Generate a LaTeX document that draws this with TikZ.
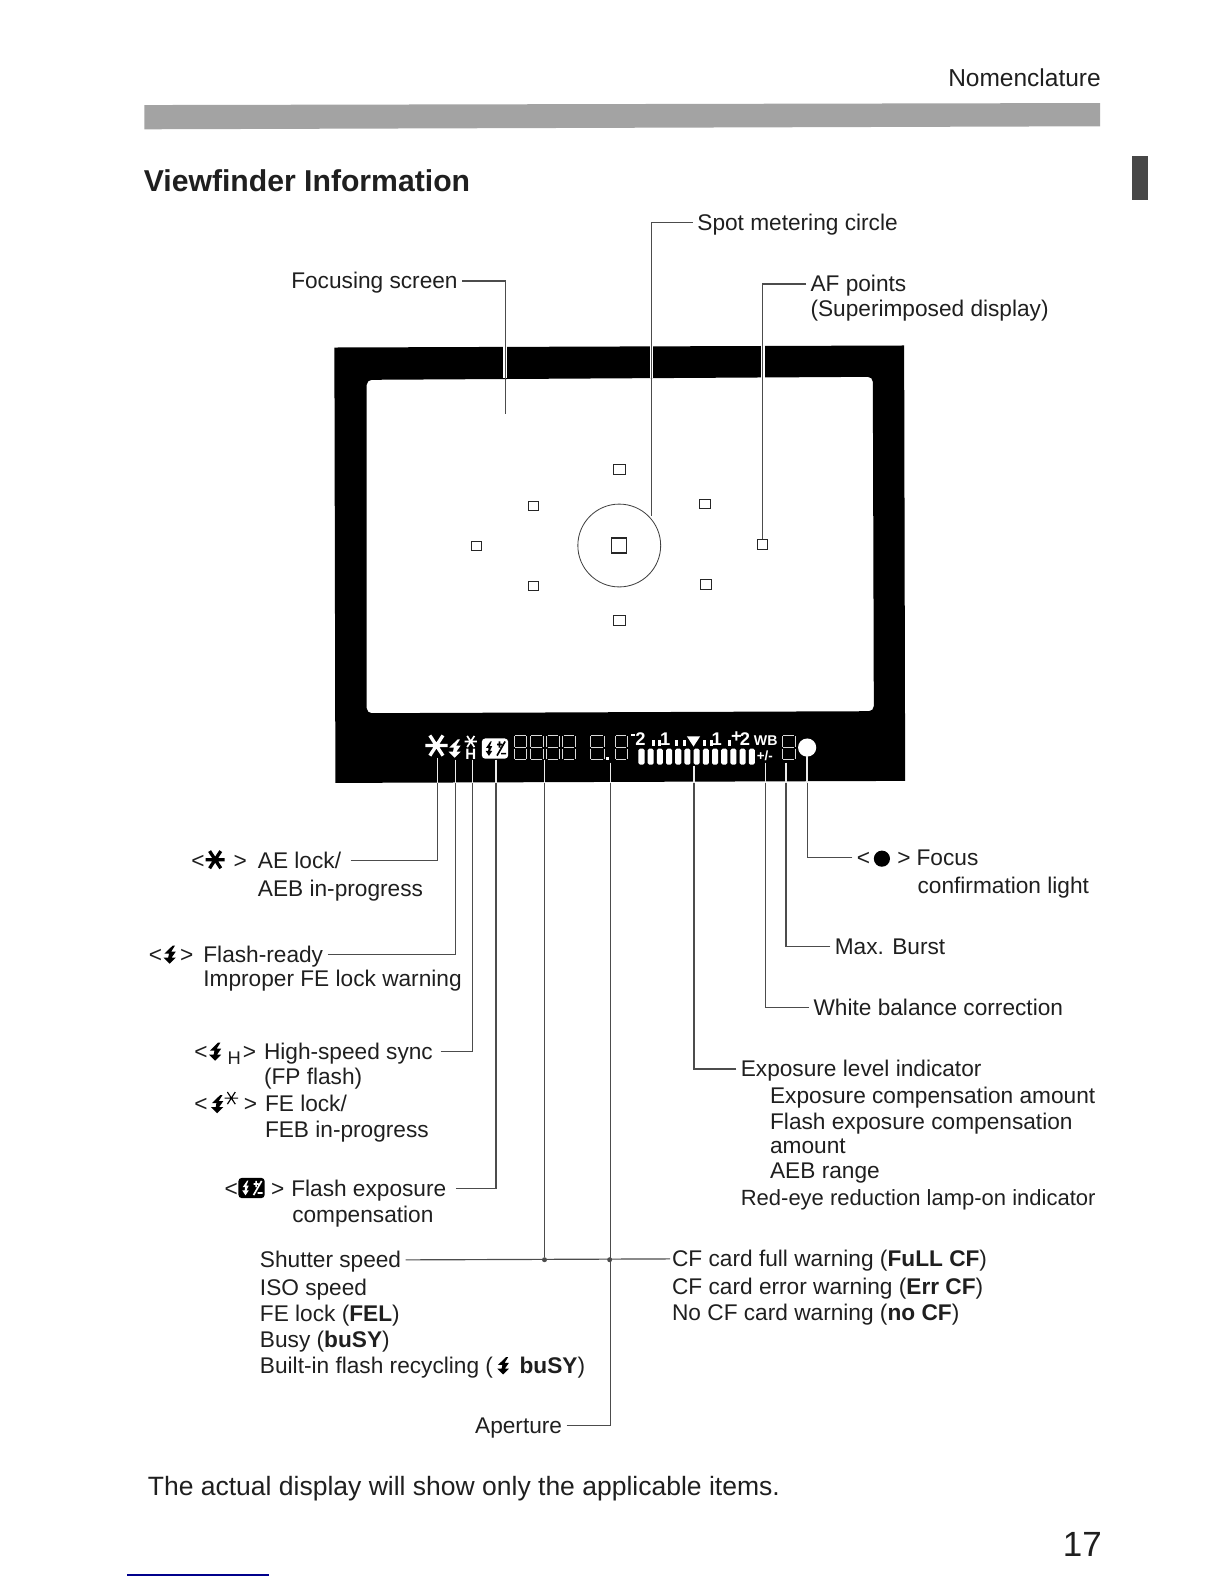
\documentclass[tikz,border=0pt]{standalone}
\usepackage{fontspec}
\setmainfont{Liberation Sans}
\tikzset{
  lab/.style={inner sep=0pt, anchor=base west, text height=12pt, text depth=2.5pt, text=black!88, font=\fontsize{13.6}{16}\selectfont},
  leader/.style={line width=0.7pt, draw=black!70, shorten <=2.5pt},
  inband/.style={line width=0.8pt, draw=white!92!black},
  halo/.style={line width=2.2pt, draw=white},
  afbox/.style={draw=black!85, line width=0.6pt, minimum width=6.3pt, minimum height=5.8pt, inner sep=0pt},
  jdot/.style={circle, fill=black!70, inner sep=0pt, minimum size=3pt},
  lcdtext/.style={inner sep=0pt, text=white, font=\fontsize{11}{11}\selectfont\bfseries},
  pics/boltsym/.style={code={
    \fill[xscale=1.5] (2,-9) -- (-3.5,-1) -- (-0.5,-1) -- (-1,3) -- (-4,3) -- (0,9) -- (4,3) -- (1.2,3) -- (4,-3) -- (1,-3) -- (3.5,-9) -- cycle;
  }},
  pics/aesym/.style={code={
    \draw (-11,0) -- (11,0) (-6.5,-10) -- (6.5,10) (6.5,-10) -- (-6.5,10);
  }},
  pics/fecsym/.style 2 args={code={
    \fill[#1, rounded corners=2] (-13,-10) rectangle (13,10);
    \begin{scope}[shift={(-6,0)}, scale=0.8]
      \fill[#2] (2,-9) -- (-3.5,-1) -- (-0.5,-1) -- (-1,3) -- (-4,3) -- (0,9) -- (4,3) -- (1.2,3) -- (4,-3) -- (1,-3) -- (3.5,-9) -- cycle;
    \end{scope}
    \draw[#2, line width=1pt] (2,7) -- (10,-7) (2,-4) -- (7,-4) (4.5,-7) -- (4.5,-1) (6,5) -- (11,5);
  }},
  pics/lcdeight/.style={code={
    \draw[white!85!black, line width=0.45pt]
      (1,0) -- (#1-1,0) (1,12) -- (#1-1,12) (1,24) -- (#1-1,24)
      (0,1) -- (0,11) (0,13) -- (0,23) (#1,1) -- (#1,11) (#1,13) -- (#1,23);
  }}
}
\begin{document}
\begin{tikzpicture}[x=0.606pt, y=-0.606pt]
  \useasboundingbox (0,0) rectangle (1212,1568);
  \coordinate (framet) at (0,342);
  \coordinate (frameh) at (0,374);
  \coordinate (frameb) at (0,775);
  \coordinate (fstip) at (500,410);
  \coordinate (spottip) at (645,511);
  \coordinate (aetip) at (433,750);
  \coordinate (flashtip) at (451,752);
  \coordinate (hstip) at (468,752);
  \coordinate (fectip) at (491,752);
  \coordinate (shuttip) at (539,752);
  \coordinate (aptip) at (604,755);
  \coordinate (exptip) at (687,758);
  \coordinate (wbtip) at (758,755);
  \coordinate (bursttip) at (778,755);
  \coordinate (focustip) at (799,748);

  \fill[black!36] (143,104) -- (1089,102) -- (1089,125) -- (143,128) -- cycle;
  \fill[black!72] (1121,154) rectangle (1136,198);
  \draw[blue!55!black, line width=0.8pt] (126,1559) -- (266,1559);

  \fill[black, even odd rule] (331,344) -- (895,342) -- (896,773) -- (332,775) -- cycle
    [rounded corners=3] (363,376) -- (864,373) -- (865,704) -- (363,706) -- cycle;

  \draw[halo] (fstip |- framet) -- (fstip |- frameh);
  \draw[halo] (spottip |- framet) -- (spottip |- frameh);
  \draw[halo] (755,342) -- (755,374);

  \node[lab, anchor=base east, font=\fontsize{14.7}{16}\selectfont] (nomen) at (1090,86) {Nomenclature};
  \node[lab, font=\fontsize{18.1}{20}\selectfont\bfseries] (title) at (142,190) {Viewfinder Information};

  \node[afbox, minimum width=7.2pt, minimum height=6pt] (aft) at (613,465) {};
  \node[afbox] (aful) at (528,501) {};
  \node[afbox] (afur) at (698,499) {};
  \node[afbox] (afl) at (471.5,540.5) {};
  \node[afbox] (afr) at (755,539) {};
  \node[afbox] (afll) at (528,580) {};
  \node[afbox] (aflr) at (699,578.5) {};
  \node[afbox, minimum width=7.2pt, minimum height=6pt] (afb) at (613,614) {};
  \node[afbox, minimum width=9pt, minimum height=9pt, line width=0.8pt] (afc) at (613,540) {};
  \draw[black!75, line width=0.5pt] (613,540) circle (41);

  \pic[white, line width=2pt] at (432,738) {aesym};
  \pic[white] at (450,741) {boltsym};
  \pic[white, line width=1pt, scale=0.55] at (466,734) {aesym};
  \node[lcdtext, font=\fontsize{9}{9}\selectfont\bfseries] (lcdh) at (466,747) {H};
  \pic at (490,741) {fecsym={white}{black}};
  \foreach \xd in {509,525,541,557} {
    \pic at (\xd,728) {lcdeight=12.5};
  }
  \pic at (584,728) {lcdeight=14};
  \pic at (609,728) {lcdeight=12};
  \pic at (774,728) {lcdeight=13};
  \fill[white] (600,749) rectangle (603,752);
  \node[lcdtext] (scaletwo) at (634,732) {2};
  \node[lcdtext] (scaleone) at (658.5,732) {1};
  \node[lcdtext] (scalethr) at (709.5,732) {1};
  \node[lcdtext] (scalefou) at (737.5,732) {2};
  \node[lcdtext] (scaleplus) at (729,730) {+};
  \fill[white] (625,727) rectangle (629,728.5);
  \foreach \xd in {645,651,668,676.5,696,703,721} {
    \fill[white] (\xd,733) rectangle (\xd+3,738);
  }
  \fill[white] (680,729) -- (693,729) -- (686.5,739) -- cycle;
  \foreach \nb in {0,...,12} {
    \fill[white, rounded corners=1] (632+\nb*9.1,741) rectangle (638+\nb*9.1,757);
  }
  \node[lcdtext, font=\fontsize{8.5}{9}\selectfont\bfseries] (lcdwb) at (758,733.5) {WB};
  \node[lcdtext, font=\fontsize{8}{9}\selectfont\bfseries] (lcdpm) at (757,748) {+/-};
  \fill[white] (799,740) circle (9);

  \node[lab] (spot) at (690,228) {Spot metering circle};
  \node[lab] (afpts) at (802,289) {AF points};
  \node[lab] (afsup) at (802,313) {(Superimposed display)};
  \node[lab] (fscreen) at (288,286) {Focusing screen};
  \draw[leader] (fscreen.east) -| (fstip);
  \draw[leader] (spot.west) -| (spottip);
  \draw[leader] (afpts.west) -| (afr.north);

  \node[lab] (aelt) at (189,860) {<};
  \pic[black, line width=2pt, scale=0.85] at (213,851) {aesym};
  \node[lab] (aegt) at (231,860) {>};
  \node[lab] (aelock) at (255,860) {AE lock/};
  \node[lab] (aeaeb) at (255,887) {AEB in-progress};
  \draw[leader] ([xshift=3pt]aelock.east) -| (aetip);

  \node[lab] (fllt) at (147,953) {<};
  \pic[black] at (168,945) {boltsym};
  \node[lab] (flgt) at (178,953) {>};
  \node[lab] (flready) at (201,953) {Flash-ready};
  \node[lab] (flimp) at (201,977) {Improper FE lock warning};
  \draw[leader] (flready.east) -| (flashtip);

  \node[lab] (hslt) at (192,1049) {<};
  \pic[black] at (213,1041) {boltsym};
  \node[lab, font=\fontsize{11}{12}\selectfont] (hssub) at (225,1054) {H};
  \node[lab] (hsgt) at (240,1049) {>};
  \node[lab] (hsync) at (261,1049) {High-speed sync};
  \node[lab] (fpflash) at (261,1074) {(FP flash)};
  \node[lab] (felt) at (192,1100) {<};
  \pic[black] at (215,1093) {boltsym};
  \pic[black, line width=0.7pt, scale=0.6] at (229,1087) {aesym};
  \node[lab] (fegt) at (241,1100) {>};
  \node[lab] (felock) at (262,1100) {FE lock/};
  \node[lab] (feb) at (262,1126) {FEB in-progress};
  \draw[leader] ([xshift=2pt]hsync.east) -| (hstip);

  \node[lab] (feclt) at (222,1184) {<};
  \pic at (249,1176) {fecsym={black}{white}};
  \node[lab] (fecgt) at (268,1184) {>};
  \node[lab] (fecexp) at (288,1184) {Flash exposure};
  \node[lab] (feccomp) at (289,1210) {compensation};
  \draw[leader] ([xshift=3pt]fecexp.east) -| (fectip);

  \node[lab] (shutter) at (257,1255) {Shutter speed};
  \node[lab] (iso) at (257,1282) {ISO speed};
  \node[lab] (fel) at (257,1308) {FE lock (\textbf{FEL})};
  \node[lab] (busy) at (257,1334) {Busy (\textbf{buSY})};
  \node[lab] (recyc) at (257,1360) {Built-in flash recycling (};
  \pic[black, scale=0.95] at (498,1352) {boltsym};
  \node[lab] (recycb) at (514,1360) {\textbf{buSY})};
  \node[lab] (aperture) at (470,1419) {Aperture};
  \node[lab] (cffull) at (665,1254) {CF card full warning (\textbf{FuLL CF})};
  \node[lab] (cferr) at (665,1281) {CF card error warning (\textbf{Err CF})};
  \node[lab] (cfno) at (665,1307) {No CF card warning (\textbf{no CF})};
  \node[jdot] (shutj) at (539,1247) {};
  \node[jdot] (cfj) at (603.5,1247) {};
  \draw[leader, shorten >=1pt] (shutter.east) -- (cffull.west);
  \draw[leader] (shuttip) -- (shutj);
  \draw[leader] (aperture.east) -| (aptip);

  \node[lab] (explevel) at (733,1066) {Exposure level indicator};
  \node[lab] (expcomp) at (762,1092) {Exposure compensation amount};
  \node[lab] (flcomp) at (762,1118) {Flash exposure compensation};
  \node[lab] (flamt) at (762,1142) {amount};
  \node[lab] (aeb) at (762,1167) {AEB range};
  \node[lab, font=\fontsize{13.2}{16}\selectfont] (redeye) at (733,1193) {Red-eye reduction lamp-on indicator};
  \draw[leader] (explevel.west) -| (exptip);

  \node[lab] (wbc) at (805,1005) {White balance correction};
  \draw[leader] (wbc.west) -| (wbtip);
  \node[lab] (burst) at (826,945) {Max. Burst};
  \draw[leader] (burst.west) -| (bursttip);

  \node[lab] (fclt) at (848,857) {<};
  \fill[black] (873,850) circle (8);
  \node[lab] (fcgt) at (888,857) {>};
  \node[lab] (focus) at (907,857) {Focus};
  \node[lab] (conf) at (908,884) {confirmation light};
  \draw[leader] (fclt.west) -| (focustip);

  \foreach \tip in {aetip, flashtip, hstip, fectip, shuttip, aptip, exptip, wbtip, bursttip, focustip} {
    \draw[inband] (\tip) -- (\tip |- frameb);
  }

  \node[lab, font=\fontsize{15.9}{18}\selectfont] (note) at (146,1480) {The actual display will show only the applicable items.};
  \node[lab, anchor=base east, font=\fontsize{21}{24}\selectfont] (pageno) at (1091,1541) {17};
\end{tikzpicture}
\end{document}
